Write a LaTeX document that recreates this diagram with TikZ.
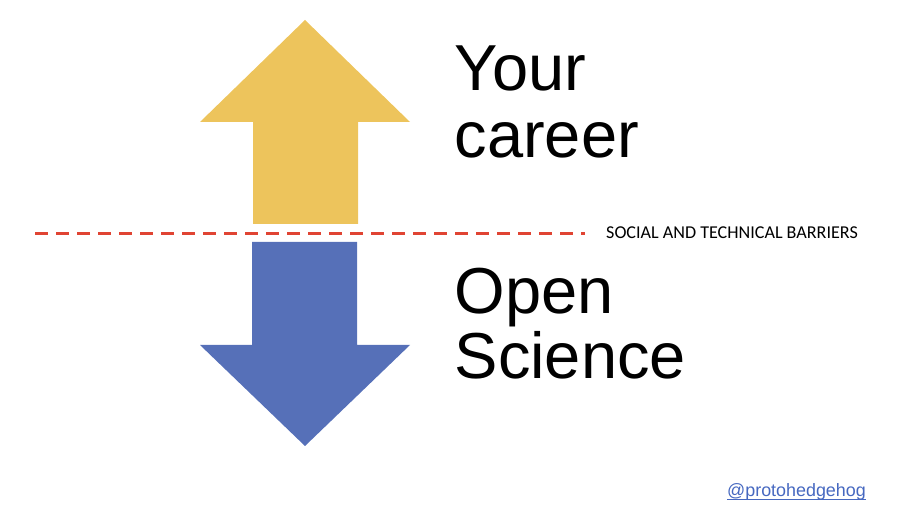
\documentclass[tikz,border=0pt]{standalone}
\usepackage{fontspec}
\setmainfont{Liberation Sans}
\newfontfamily\labelfont{Carlito}
\definecolor{arrowgold}{HTML}{EDC45C}
\definecolor{arrowblue}{HTML}{5670B8}
\definecolor{barrierred}{HTML}{E04433}
\definecolor{linkblue}{HTML}{4668C0}
\tikzset{
  bigtext/.style={anchor=base west,inner sep=0pt,font=\fontsize{65pt}{65pt}\selectfont,text=black},
  barrierline/.style={draw=barrierred,line width=3.4pt,dash pattern=on 13pt off 8pt},
  smalltext/.style={anchor=base west,inner sep=0pt,font=\labelfont\fontsize{18.1pt}{20pt}\selectfont,text=black},
  linktext/.style={anchor=base west,inner sep=0pt,font=\fontsize{17.9pt}{20pt}\selectfont,text=linkblue},
}
\begin{document}
\begin{tikzpicture}[x=1pt,y=-1pt]
\useasboundingbox (0,0) rectangle (922,526);
\fill[arrowgold] (305,20) -- (410,122) -- (358,122) -- (358,224) -- (253,224) -- (253,122) -- (200,122) -- cycle;
\fill[arrowblue] (252,242) -- (357,242) -- (357,345) -- (410,345) -- (305,446) -- (200,345) -- (252,345) -- cycle;
\coordinate (barrierstart) at (35,233.5);
\coordinate (barrierend) at (585,233.5);
\draw[barrierline] (barrierstart) -- (barrierend);
\node[bigtext] (your) at (454.5,91) {Your};
\node[bigtext] (career) at (454.5,158) {career};
\node[bigtext] (open) at (454.5,314) {Open};
\node[bigtext] (science) at (454.5,379) {Science};
\node[smalltext] (barriers) at (606,239) {SOCIAL AND TECHNICAL BARRIERS};
\node[linktext] (handle) at (727,497) {@protohedgehog};
\draw[linkblue,line width=0.8pt] (handle.base west) ++(0,2.2) -- (handle.base east |- 0,499.2);
\end{tikzpicture}
\end{document}
